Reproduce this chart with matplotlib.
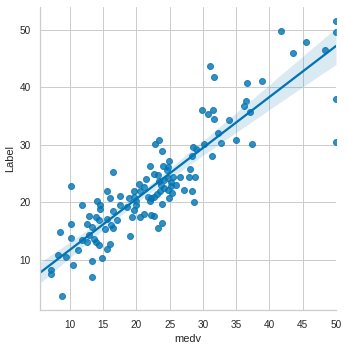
import matplotlib
matplotlib.use("Agg")
import matplotlib.pyplot as plt
import numpy as np
import pandas as pd
import seaborn as sns

# 房价真实值 medv 与预测值 Label
medv = [50.0, 50.0, 41.8, 45.5, 43.5, 48.4, 31.0, 31.7, 36.6, 38.8,
        50.0, 36.4, 36.2, 37.1, 29.9, 30.8, 31.5, 31.7, 33.9, 32.3,
        32.7, 35.0, 37.4, 50.0, 30.1, 28.5, 28.9, 28.3, 31.3, 28.0,
        27.9, 28.8, 22.8, 23.4, 23.9, 22.0, 24.0, 24.7, 24.9, 16.5,
        24.6, 22.7, 23.2, 21.4, 24.7, 26.5, 25.2, 20.4, 21.1, 19.6,
        23.7, 24.2, 23.6, 24.7, 27.2, 28.3, 19.6, 24.9, 17.6, 20.6,
        28.7, 23.9, 22.2, 22.7, 17.6, 18.6, 19.9, 19.6, 19.4, 20.6,
        21.1, 22.2, 22.6, 23.8, 23.3, 19.0, 22.0, 20.0, 10.2, 11.8,
        8.5, 10.2, 10.2, 9.4, 8.2, 7.1, 7.1, 10.5, 11.2, 8.8,
        13.3, 13.3, 14.8, 15.6, 14.0, 14.5, 14.5, 12.9, 13.9, 14.4,
        12.6, 13.3, 11.8, 12.8, 13.6, 13.9, 14.4, 12.5, 15.2, 15.5,
        16.0, 16.1, 16.4, 16.5, 17.1, 16.0, 18.9, 15.5, 24.1, 25.2,
        23.4, 25.9, 21.7, 23.1, 25.3, 25.5]
label = [51.6, 49.6, 49.8, 47.9, 46.0, 46.6, 43.8, 41.9, 40.8, 41.2,
         38.0, 37.7, 36.8, 35.8, 36.0, 35.4, 36.1, 34.6, 34.4, 32.1,
         30.4, 30.9, 30.1, 30.6, 30.1, 29.6, 29.3, 28.1, 28.0, 25.9,
         24.5, 24.4, 30.2, 30.8, 29.0, 26.3, 26.3, 26.2, 27.3, 25.3,
         25.6, 24.9, 24.7, 24.1, 24.3, 24.4, 23.5, 23.2, 22.7, 22.0,
         23.0, 22.6, 22.0, 22.1, 22.1, 22.0, 21.0, 20.7, 21.1, 22.0,
         20.1, 19.7, 20.7, 21.0, 19.5, 19.3, 19.5, 18.7, 17.5, 17.5,
         18.0, 17.8, 17.7, 16.4, 15.5, 14.2, 20.3, 20.3, 22.8, 19.5,
         14.8, 16.2, 13.8, 10.5, 10.9, 8.2, 7.5, 9.2, 11.7, 3.7,
         7.0, 9.9, 10.4, 22.0, 20.2, 19.6, 18.9, 17.6, 17.4, 17.0,
         16.3, 15.8, 13.4, 14.3, 13.7, 13.2, 12.6, 13.1, 15.4, 11.9,
         12.8, 16.0, 15.5, 18.6, 16.9, 20.7, 20.7, 17.1, 23.9, 22.8,
         23.7, 23.0, 21.0, 21.5, 21.6, 24.4]

df = pd.DataFrame({"medv": medv, "Label": label})

sns.set_theme(style="whitegrid", palette="colorblind")
plt.rcParams['font.family'] = ['Liberation Sans', 'DejaVu Sans']
plt.rcParams['xtick.labelsize'] = 10
plt.rcParams['ytick.labelsize'] = 10
plt.rcParams['axes.labelsize'] = 11

fig = plt.figure(figsize=(348 / 72, 348 / 72), dpi=72)
ax = fig.add_axes([40 / 348, 38 / 348, 296 / 348, 303 / 348])
ax.set_xlim(5.5, 50)
ax.set_ylim(1.3, 54.0)

# 散点 + 回归线 + 置信区间
sns.regplot(data=df, x="medv", y="Label", ax=ax, truncate=False, seed=0)

ax.set_xlim(5.5, 50)
ax.set_ylim(1.3, 54.0)
sns.despine(ax=ax)

fig.savefig("out.png", dpi=72)
